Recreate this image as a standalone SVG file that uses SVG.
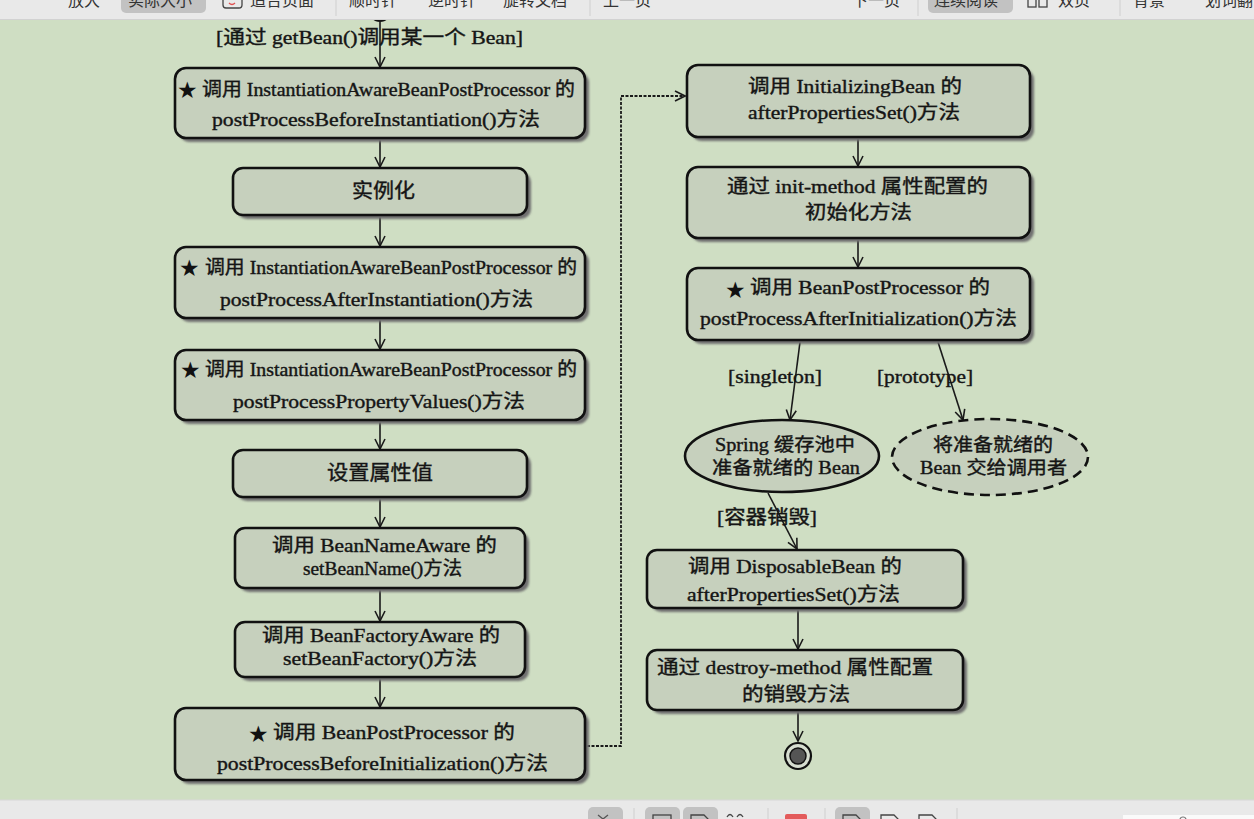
<svg xmlns="http://www.w3.org/2000/svg" width="1254" height="819" viewBox="0 0 1254 819">
<style>
.bg{fill:#cfdec3}
.box{fill:#c6d0bd;stroke:#111;stroke-width:2.6}
.shd{fill:#6f6f6f;filter:url(#blur)}
.t{font-family:"Liberation Serif","Noto Sans CJK SC",serif;font-size:19px;fill:#151515;stroke:#151515;stroke-width:0.4}
.star{font-family:"DejaVu Sans","Noto Sans CJK SC",sans-serif;font-size:23px;fill:#111}
.ln{stroke:#1a1a1a;stroke-width:1.6;fill:none}
.dash{stroke:#1a1a1a;stroke-width:1.8;fill:none;stroke-dasharray:3 1.5}
.tb{font-family:"Noto Sans CJK SC","Noto Sans",sans-serif;font-size:16px;fill:#333}
.tbbar{fill:#e9e9e9}
.hl{fill:#c2c2c2}
.sep{stroke:#cfcfcf;stroke-width:1}
</style>
<defs>
<filter id="blur" x="-5%" y="-10%" width="110%" height="120%"><feGaussianBlur stdDeviation="1.2"/></filter>
<marker id="arr" viewBox="0 0 12 12" refX="11" refY="6" markerWidth="12" markerHeight="12" markerUnits="userSpaceOnUse" orient="auto">
<path d="M1,1 L11,6 L1,11" fill="none" stroke="#1a1a1a" stroke-width="1.6"/>
</marker>
</defs>
<rect class="bg" x="0" y="0" width="1254" height="819"/>

<g id="start"><circle cx="380" cy="11" r="11" fill="#111"/></g>

<g id="connectors">
<line class="ln" x1="380" y1="20" x2="380" y2="67" marker-end="url(#arr)"/>
<line class="ln" x1="380" y1="140" x2="380" y2="167" marker-end="url(#arr)"/>
<line class="ln" x1="380" y1="217" x2="380" y2="246" marker-end="url(#arr)"/>
<line class="ln" x1="380" y1="320" x2="380" y2="349" marker-end="url(#arr)"/>
<line class="ln" x1="380" y1="422" x2="380" y2="449" marker-end="url(#arr)"/>
<line class="ln" x1="380" y1="499" x2="380" y2="527" marker-end="url(#arr)"/>
<line class="ln" x1="380" y1="590" x2="380" y2="621" marker-end="url(#arr)"/>
<line class="ln" x1="380" y1="679" x2="380" y2="707" marker-end="url(#arr)"/>
<polyline class="dash" points="587,746 621,746 621,96 685,96" marker-end="url(#arr)"/>
<line class="ln" x1="858" y1="139" x2="858" y2="166" marker-end="url(#arr)"/>
<line class="ln" x1="858" y1="240" x2="858" y2="267" marker-end="url(#arr)"/>
<line class="ln" x1="800" y1="342" x2="790" y2="420" marker-end="url(#arr)"/>
<line class="ln" x1="938" y1="342" x2="963" y2="420" marker-end="url(#arr)"/>
<line class="ln" x1="768" y1="493" x2="797" y2="549" marker-end="url(#arr)"/>
<line class="ln" x1="798" y1="610" x2="798" y2="649" marker-end="url(#arr)"/>
<line class="ln" x1="798" y1="712" x2="798" y2="741" marker-end="url(#arr)"/>
</g>

<text class="t" x="216" y="44" textLength="307" lengthAdjust="spacingAndGlyphs">[通过 getBean()调用某一个 Bean]</text>

<g id="n1">
<rect class="shd" x="179" y="72" width="410" height="70" rx="11"/>
<rect class="box" x="175" y="68" width="410" height="70" rx="11"/>
<text class="star" x="177" y="98">★</text>
<text class="t" x="202" y="96" textLength="373" lengthAdjust="spacingAndGlyphs">调用 InstantiationAwareBeanPostProcessor 的</text>
<text class="t" x="212" y="126" textLength="328" lengthAdjust="spacingAndGlyphs">postProcessBeforeInstantiation()方法</text>
</g>
<g id="n2">
<rect class="shd" x="237" y="172" width="294" height="47" rx="10"/>
<rect class="box" x="233" y="168" width="294" height="47" rx="10"/>
<text class="t" x="352" y="198" textLength="63" lengthAdjust="spacingAndGlyphs" style="font-size:20px">实例化</text>
</g>
<g id="n3">
<rect class="shd" x="179" y="251" width="410" height="71" rx="11"/>
<rect class="box" x="175" y="247" width="410" height="71" rx="11"/>
<text class="star" x="179" y="276">★</text>
<text class="t" x="205" y="274" textLength="372" lengthAdjust="spacingAndGlyphs">调用 InstantiationAwareBeanPostProcessor 的</text>
<text class="t" x="220" y="306" textLength="313" lengthAdjust="spacingAndGlyphs">postProcessAfterInstantiation()方法</text>
</g>
<g id="n4">
<rect class="shd" x="179" y="354" width="410" height="70" rx="11"/>
<rect class="box" x="175" y="350" width="410" height="70" rx="11"/>
<text class="star" x="180" y="378">★</text>
<text class="t" x="205" y="376" textLength="372" lengthAdjust="spacingAndGlyphs">调用 InstantiationAwareBeanPostProcessor 的</text>
<text class="t" x="233" y="408" textLength="292" lengthAdjust="spacingAndGlyphs">postProcessPropertyValues()方法</text>
</g>
<g id="n5">
<rect class="shd" x="237" y="454" width="294" height="47" rx="10"/>
<rect class="box" x="233" y="450" width="294" height="47" rx="10"/>
<text class="t" x="327" y="480" textLength="106" lengthAdjust="spacingAndGlyphs" style="font-size:20px">设置属性值</text>
</g>
<g id="n6">
<rect class="shd" x="239" y="532" width="290" height="60" rx="10"/>
<rect class="box" x="235" y="528" width="290" height="60" rx="10"/>
<text class="t" x="272" y="552" textLength="225" lengthAdjust="spacingAndGlyphs">调用 BeanNameAware 的</text>
<text class="t" x="303" y="575" textLength="159" lengthAdjust="spacingAndGlyphs">setBeanName()方法</text>
</g>
<g id="n7">
<rect class="shd" x="239" y="626" width="290" height="55" rx="10"/>
<rect class="box" x="235" y="622" width="290" height="55" rx="10"/>
<text class="t" x="262" y="642" textLength="238" lengthAdjust="spacingAndGlyphs">调用 BeanFactoryAware 的</text>
<text class="t" x="283" y="665" textLength="194" lengthAdjust="spacingAndGlyphs">setBeanFactory()方法</text>
</g>
<g id="n8">
<rect class="shd" x="179" y="712" width="410" height="72" rx="11"/>
<rect class="box" x="175" y="708" width="410" height="72" rx="11"/>
<text class="star" x="248" y="742">★</text>
<text class="t" x="273" y="739" textLength="242" lengthAdjust="spacingAndGlyphs">调用 BeanPostProcessor 的</text>
<text class="t" x="217" y="770" textLength="331" lengthAdjust="spacingAndGlyphs">postProcessBeforeInitialization()方法</text>
</g>

<g id="r1">
<rect class="shd" x="691" y="69" width="343" height="72" rx="11"/>
<rect class="box" x="687" y="65" width="343" height="72" rx="11"/>
<text class="t" x="748" y="93" textLength="214" lengthAdjust="spacingAndGlyphs">调用 InitializingBean 的</text>
<text class="t" x="748" y="119" textLength="212" lengthAdjust="spacingAndGlyphs">afterPropertiesSet()方法</text>
</g>
<g id="r2">
<rect class="shd" x="691" y="171" width="343" height="71" rx="11"/>
<rect class="box" x="687" y="167" width="343" height="71" rx="11"/>
<text class="t" x="727" y="193" textLength="261" lengthAdjust="spacingAndGlyphs">通过 init-method 属性配置的</text>
<text class="t" x="805" y="219" textLength="107" lengthAdjust="spacingAndGlyphs">初始化方法</text>
</g>
<g id="r3">
<rect class="shd" x="691" y="272" width="343" height="72" rx="11"/>
<rect class="box" x="687" y="268" width="343" height="72" rx="11"/>
<text class="star" x="725" y="298">★</text>
<text class="t" x="750" y="294" textLength="240" lengthAdjust="spacingAndGlyphs">调用 BeanPostProcessor 的</text>
<text class="t" x="700" y="325" textLength="317" lengthAdjust="spacingAndGlyphs">postProcessAfterInitialization()方法</text>
</g>

<text class="t" x="728" y="383" textLength="94" lengthAdjust="spacingAndGlyphs">[singleton]</text>
<text class="t" x="877" y="383" textLength="96" lengthAdjust="spacingAndGlyphs">[prototype]</text>

<g id="e1">
<ellipse cx="782" cy="456" rx="97" ry="36" fill="#c6d0bd" stroke="#111" stroke-width="2.6"/>
<text class="t" x="715" y="451" textLength="140" lengthAdjust="spacingAndGlyphs" style="font-size:18px">Spring 缓存池中</text>
<text class="t" x="712" y="474" textLength="148" lengthAdjust="spacingAndGlyphs" style="font-size:18px">准备就绪的 Bean</text>
</g>
<g id="e2">
<ellipse cx="990" cy="457" rx="98" ry="38" fill="#c6d0bd" stroke="#111" stroke-width="2.6" stroke-dasharray="10 6"/>
<text class="t" x="933" y="451" textLength="120" lengthAdjust="spacingAndGlyphs" style="font-size:18px">将准备就绪的</text>
<text class="t" x="920" y="474" textLength="147" lengthAdjust="spacingAndGlyphs" style="font-size:18px">Bean 交给调用者</text>
</g>

<text class="t" x="717" y="524" textLength="100" lengthAdjust="spacingAndGlyphs">[容器销毁]</text>

<g id="r4">
<rect class="shd" x="651" y="554" width="316" height="58" rx="10"/>
<rect class="box" x="647" y="550" width="316" height="58" rx="10"/>
<text class="t" x="688" y="573" textLength="214" lengthAdjust="spacingAndGlyphs">调用 DisposableBean 的</text>
<text class="t" x="687" y="601" textLength="213" lengthAdjust="spacingAndGlyphs">afterPropertiesSet()方法</text>
</g>
<g id="r5">
<rect class="shd" x="651" y="654" width="316" height="60" rx="10"/>
<rect class="box" x="647" y="650" width="316" height="60" rx="10"/>
<text class="t" x="657" y="674" textLength="276" lengthAdjust="spacingAndGlyphs">通过 destroy-method 属性配置</text>
<text class="t" x="742" y="701" textLength="108" lengthAdjust="spacingAndGlyphs">的销毁方法</text>
</g>
<g id="end">
<circle cx="798" cy="756" r="13" fill="#d6ddd0" stroke="#111" stroke-width="2.2"/>
<circle cx="798" cy="756" r="8" fill="#555" stroke="#111" stroke-width="1.5"/>
</g>

<g id="toolbar-top">
<rect class="tbbar" x="0" y="0" width="1254" height="19"/>
<line x1="0" y1="19.5" x2="1254" y2="19.5" stroke="#d2d2d2" stroke-width="1"/>
<rect class="hl" x="121" y="-8" width="85" height="21" rx="5"/>
<rect class="hl" x="928" y="-8" width="85" height="21" rx="5"/>
<text class="tb" x="68" y="6">放大</text>
<text class="tb" x="128" y="6">实际大小</text>
<rect x="223" y="-6" width="19" height="14" rx="3" fill="none" stroke="#444" stroke-width="1.3"/>
<path d="M229,3 q3,3 6,0" fill="none" stroke="#e05050" stroke-width="1.3"/>
<text class="tb" x="250" y="6">适合页面</text>
<line class="sep" x1="336" y1="0" x2="336" y2="16"/>
<text class="tb" x="349" y="6">顺时针</text>
<text class="tb" x="428" y="6">逆时针</text>
<text class="tb" x="503" y="6">旋转文档</text>
<line class="sep" x1="590" y1="0" x2="590" y2="16"/>
<text class="tb" x="603" y="6">上一页</text>
<text class="tb" x="852" y="6">下一页</text>
<line class="sep" x1="918" y1="0" x2="918" y2="16"/>
<text class="tb" x="934" y="6">连续阅读</text>
<rect x="1028" y="-6" width="8" height="13" fill="none" stroke="#444" stroke-width="1.3"/>
<rect x="1039" y="-6" width="8" height="13" fill="none" stroke="#444" stroke-width="1.3"/>
<text class="tb" x="1058" y="6">双页</text>
<line class="sep" x1="1120" y1="0" x2="1120" y2="16"/>
<text class="tb" x="1133" y="6">背景</text>
<text class="tb" x="1205" y="6">划词翻译</text>
</g>

<g id="toolbar-bottom">
<rect class="tbbar" x="0" y="800" width="1254" height="19"/>
<line x1="0" y1="800" x2="1254" y2="800" stroke="#d8d8d8" stroke-width="1"/>
<rect class="hl" x="588" y="807" width="35" height="20" rx="5"/>
<path d="M598,815 l5,4 l5,-4 M603,819 v3" fill="none" stroke="#555" stroke-width="1.3"/>
<line class="sep" x1="634" y1="808" x2="634" y2="819"/>
<rect class="hl" x="645" y="807" width="35" height="20" rx="5"/>
<rect x="653" y="815" width="18" height="10" fill="none" stroke="#444" stroke-width="1.3"/>
<rect class="hl" x="683" y="807" width="35" height="20" rx="5"/>
<path d="M691,825 v-10 h13 l4,4 v6" fill="none" stroke="#444" stroke-width="1.3"/>
<path d="M727,817 q3,-5 6,0 M737,817 q3,-5 6,0" fill="none" stroke="#444" stroke-width="1.3"/>
<line class="sep" x1="768" y1="808" x2="768" y2="819"/>
<rect x="785" y="814" width="22" height="10" rx="2" fill="#e35b5b"/>
<line class="sep" x1="825" y1="808" x2="825" y2="819"/>
<rect class="hl" x="835" y="807" width="35" height="20" rx="5"/>
<path d="M843,825 v-10 h13 l4,4 v6" fill="none" stroke="#444" stroke-width="1.3"/>
<path d="M881,825 v-10 h13 l4,4 v6" fill="none" stroke="#444" stroke-width="1.3"/>
<path d="M919,825 v-10 h13 l4,4 v6" fill="none" stroke="#444" stroke-width="1.3"/>
<line class="sep" x1="957" y1="808" x2="957" y2="819"/>
<text class="tb" x="984" y="831" style="font-size:15px">100%</text>
<rect x="1123" y="815" width="131" height="10" fill="#fafafa"/>
<circle cx="1183" cy="820" r="3" fill="none" stroke="#777" stroke-width="1.2"/>
</g>
</svg>
